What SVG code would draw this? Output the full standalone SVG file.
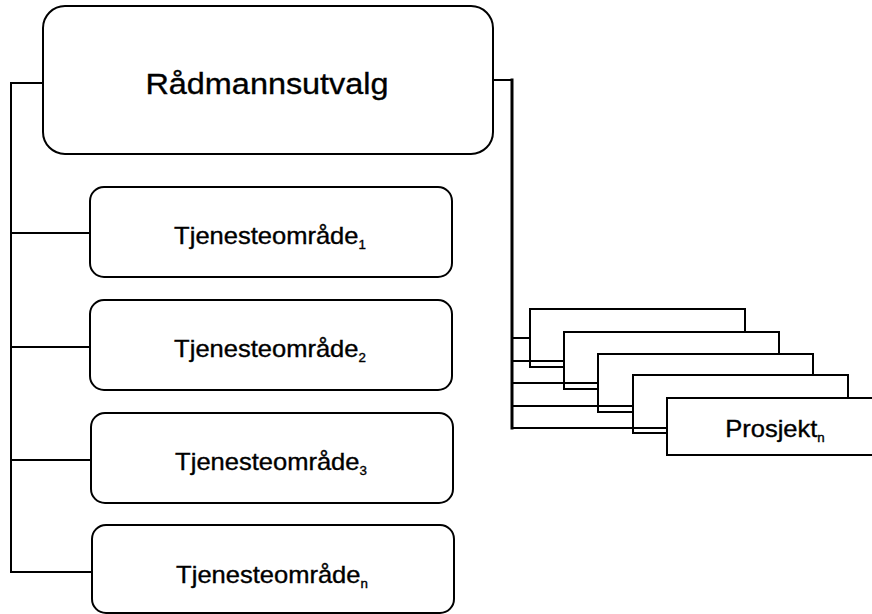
<svg xmlns="http://www.w3.org/2000/svg" width="872" height="614" viewBox="0 0 872 614">
  <style>
    .box { fill: #ffffff; stroke: #000000; stroke-width: 2; }
    .pbox { fill: #ffffff; stroke: #000000; stroke-width: 2; }
    .conn { fill: none; stroke: #000000; stroke-width: 2; stroke-linecap: square; }
    .thick { stroke-width: 3; }
    text { font-family: "Liberation Sans", Arial, sans-serif; fill: #000000; stroke: #000000; stroke-width: 0.35; text-anchor: middle; }
    .t-main { font-size: 30px; }
    .t-area { font-size: 23px; }
    .sub { font-size: 12px; }
  </style>
  <rect width="872" height="614" fill="#ffffff"/>

  <g id="radmannsutvalg">
    <rect class="box" x="43" y="6" width="450" height="148" rx="22" ry="22"/>
    <text class="t-main" transform="translate(267,94) scale(1.08,1)">Rådmannsutvalg</text>
  </g>

  <g id="tjenesteomrade1">
    <rect class="box" x="90" y="187" width="362" height="90" rx="14" ry="14"/>
    <text class="t-area" transform="translate(270,244) scale(1.11,1)">Tjenesteområde<tspan class="sub" dy="5">1</tspan></text>
  </g>
  <g id="tjenesteomrade2">
    <rect class="box" x="90" y="300" width="362" height="90" rx="14" ry="14"/>
    <text class="t-area" transform="translate(270,357) scale(1.11,1)">Tjenesteområde<tspan class="sub" dy="5">2</tspan></text>
  </g>
  <g id="tjenesteomrade3">
    <rect class="box" x="91" y="413" width="362" height="90" rx="14" ry="14"/>
    <text class="t-area" transform="translate(271,470) scale(1.11,1)">Tjenesteområde<tspan class="sub" dy="5">3</tspan></text>
  </g>
  <g id="tjenesteomraden">
    <rect class="box" x="92" y="525" width="362" height="88" rx="14" ry="14"/>
    <text class="t-area" transform="translate(272,583) scale(1.11,1)">Tjenesteområde<tspan class="sub" dy="5">n</tspan></text>
  </g>

  <g id="prosjekt1">
    <rect class="pbox" x="530" y="309" width="215" height="58"/>
  </g>
  <g id="prosjekt2">
    <rect class="pbox" x="564" y="332" width="215" height="57"/>
  </g>
  <g id="prosjekt3">
    <rect class="pbox" x="598" y="354" width="215" height="58"/>
  </g>
  <g id="prosjekt4">
    <rect class="pbox" x="633" y="375" width="215" height="58"/>
  </g>
  <g id="prosjektn">
    <rect class="pbox" x="667" y="398" width="215" height="57"/>
    <text class="t-area" transform="translate(775,437) scale(1.11,1)">Prosjekt<tspan class="sub" dy="5">n</tspan></text>
  </g>

  <g id="connectors">
    <path class="conn" d="M43,83 H11 V572 H92"/>
    <path class="conn" d="M11,233 H90"/>
    <path class="conn" d="M11,347 H90"/>
    <path class="conn" d="M11,460 H91"/>
    <path class="conn" d="M493,80 H512"/>
    <path class="conn thick" d="M512,80 V428"/>
    <path class="conn" d="M512,338 H530"/>
    <path class="conn" d="M512,361 H564"/>
    <path class="conn" d="M512,383 H598"/>
    <path class="conn" d="M512,406 H633"/>
    <path class="conn" d="M512,428 H667"/>
  </g>
</svg>
